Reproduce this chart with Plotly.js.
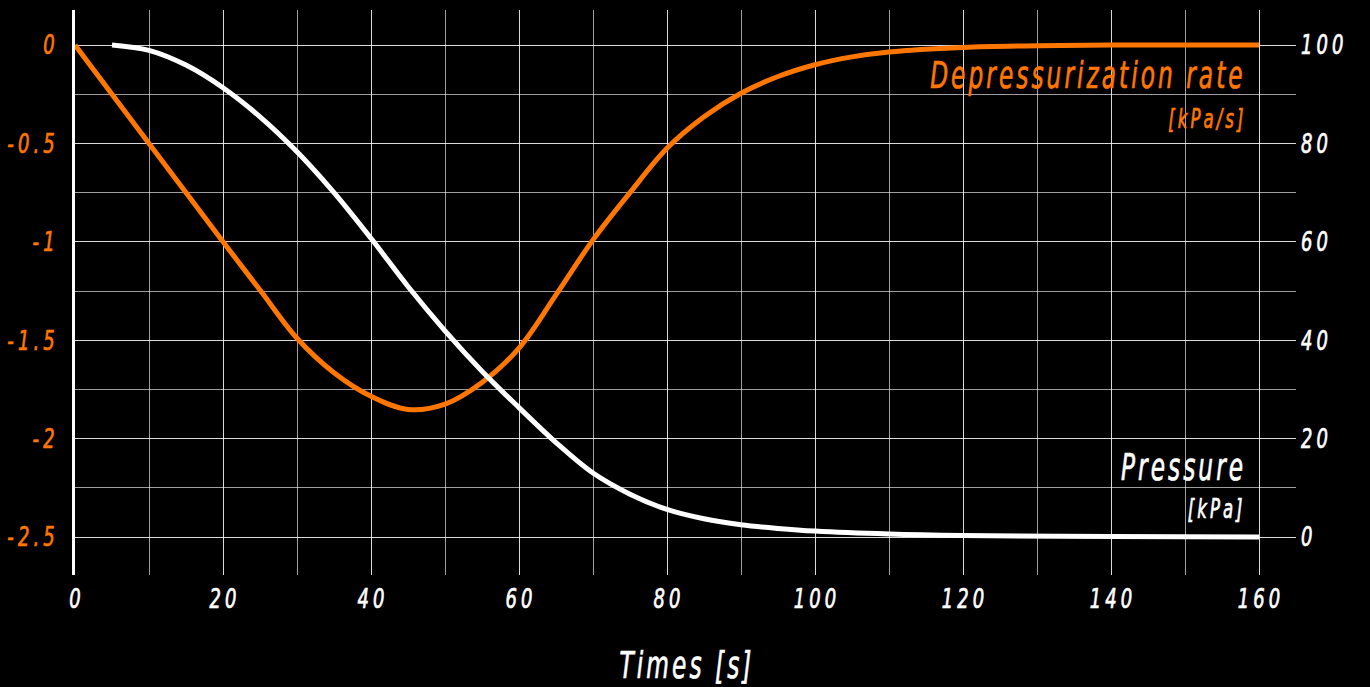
<!DOCTYPE html>
<html>
<head>
<meta charset="utf-8">
<script src="https://cdn.plot.ly/plotly-3.0.1.min.js"></script>
<style>
html, body { margin: 0; padding: 0; background: #000; }
#chart { width: 1370px; height: 687px; }
</style>
</head>
<body>
<div id="chart"></div>
<script>
// Time axis (s)
const rateTime = [0, 10, 20, 25, 30, 35, 40, 45, 50, 55, 60, 65, 70, 75, 80, 85, 90, 95, 100, 105, 110, 120, 130, 140, 160];
// Depressurization rate (kPa/s)
const rateValues = [0, -0.5, -1.0, -1.245, -1.49, -1.665, -1.785, -1.852, -1.825, -1.715, -1.54, -1.27, -0.99, -0.75, -0.525, -0.365, -0.245, -0.16, -0.1, -0.06, -0.035, -0.012, -0.004, 0, 0];

const pressureTime = [5, 10, 15, 20, 25, 30, 35, 40, 45, 50, 55, 60, 65, 70, 75, 80, 85, 90, 95, 100, 110, 120, 140, 160];
// Pressure (kPa)
const pressureValues = [100, 98.9, 95.9, 91.3, 85.4, 78.3, 70.0, 60.7, 50.9, 41.9, 33.7, 26.3, 19.2, 13.0, 8.7, 5.6, 3.7, 2.5, 1.75, 1.2, 0.6, 0.3, 0.08, 0];

const xTickVals = [0, 20, 40, 60, 80, 100, 120, 140, 160];
const xTickText = ['0', '20', '40', '60', '80', '100', '120', '140', '160'];
const leftTickVals = [0, -0.5, -1, -1.5, -2, -2.5];
const leftTickText = ['0', '-0.5', '-1', '-1.5', '-2', '-2.5'];
const rightTickVals = [0, 20, 40, 60, 80, 100];
const rightTickText = ['0', '20', '40', '60', '80', '100'];

const ORANGE = '#ff7600';
const FONT = '"DejaVu Sans Condensed", "DejaVu Sans", sans-serif';
const GRID = 'rgba(255,255,255,0.62)';

const traces = [
  {
    x: rateTime, y: rateValues, type: 'scatter', mode: 'lines', yaxis: 'y',
    line: { color: ORANGE, width: 5, shape: 'spline', smoothing: 1 },
    hoverinfo: 'skip', showlegend: false
  },
  {
    x: pressureTime, y: pressureValues, type: 'scatter', mode: 'lines', yaxis: 'y2',
    line: { color: '#ffffff', width: 5, shape: 'spline', smoothing: 1 },
    hoverinfo: 'skip', showlegend: false
  }
];

const layout = {
  width: 1370, height: 687,
  paper_bgcolor: '#000', plot_bgcolor: '#000',
  margin: { l: 75, r: 74, t: 10, b: 112 },
  showlegend: false,
  font: { family: FONT, color: '#fff', style: 'italic' },
  xaxis: {
    range: [0, 165],
    tickmode: 'array', tickvals: xTickVals, ticktext: xTickText,
    tickfont: { family: FONT, size: 27, color: '#fff', style: 'italic' },
    showgrid: true, gridcolor: GRID, gridwidth: 1,
    minor: { dtick: 10, showgrid: true, gridcolor: GRID, gridwidth: 1 },
    zeroline: false, showline: false, ticks: '',
    ticklabelstandoff: 5,
    title: { text: 'Times [s]', font: { family: FONT, size: 38, color: '#fff', style: 'italic' }, standoff: 38 }
  },
  yaxis: {
    range: [-2.693, 0.178],
    tickmode: 'array', tickvals: leftTickVals, ticktext: leftTickText,
    tickfont: { family: FONT, size: 27, color: ORANGE, style: 'italic' },
    showgrid: true, gridcolor: GRID, gridwidth: 1,
    minor: { dtick: 0.25, showgrid: true, gridcolor: GRID, gridwidth: 1 },
    zeroline: false, showline: true, linecolor: '#fff', linewidth: 3, ticks: '',
    ticklabelstandoff: 12
  },
  yaxis2: {
    range: [-7.72, 107.1],
    overlaying: 'y', side: 'right',
    tickmode: 'array', tickvals: rightTickVals, ticktext: rightTickText,
    tickfont: { family: FONT, size: 27, color: '#fff', style: 'italic' },
    showgrid: false, zeroline: false, showline: false, ticks: '',
    ticklabelstandoff: 4
  },
  annotations: [
    { text: 'Depressurization rate', xref: 'paper', yref: 'paper', x: 0.958, y: 0.885, xanchor: 'right', yanchor: 'middle', showarrow: false,
      font: { family: FONT, size: 38, color: ORANGE, style: 'italic' } },
    { text: '[kPa/s]', xref: 'paper', yref: 'paper', x: 0.958, y: 0.808, xanchor: 'right', yanchor: 'middle', showarrow: false,
      font: { family: FONT, size: 27, color: ORANGE, style: 'italic' } },
    { text: 'Pressure', xref: 'paper', yref: 'paper', x: 0.958, y: 0.192, xanchor: 'right', yanchor: 'middle', showarrow: false,
      font: { family: FONT, size: 38, color: '#fff', style: 'italic' } },
    { text: '[kPa]', xref: 'paper', yref: 'paper', x: 0.958, y: 0.118, xanchor: 'right', yanchor: 'middle', showarrow: false,
      font: { family: FONT, size: 27, color: '#fff', style: 'italic' } }
  ]
};

// Give the lettering the spaced, condensed look of the reference face.
// The anchor point Plotly chose (measured without spacing) is kept fixed.
function condenseText(gd) {
  gd.querySelectorAll('svg text').forEach(function (t) {
    if (!t.textContent) return;
    const isTick = !!t.closest('.xtick, .ytick, .y2tick');
    const s = isTick ? 0.74 : 0.68;
    const ls = isTick ? 5.5 : 4.5;
    let anchor = t.getAttribute('text-anchor') || 'start';
    if (t.classList.contains('annotation-text')) anchor = 'end';
    const b0 = t.getBBox();
    const ax0 = anchor === 'end' ? b0.x + b0.width : (anchor === 'middle' ? b0.x + b0.width / 2 : b0.x);
    t.style.letterSpacing = ls + 'px';
    const b1 = t.getBBox();
    const w1 = b1.width - ls; // drop trailing spacing
    const ax1 = anchor === 'end' ? b1.x + w1 : (anchor === 'middle' ? b1.x + w1 / 2 : b1.x);
    const T = t.getAttribute('transform') || '';
    t.setAttribute('transform', T + ' translate(' + ax0 + ',0) scale(' + s + ',1) translate(' + (-ax1) + ',0)');
    // slightly heavier strokes, like the reference face
    const fill = t.style.fill || window.getComputedStyle(t).fill;
    t.style.stroke = fill;
    t.style.strokeWidth = '0.7px';
  });
}

Plotly.newPlot('chart', traces, layout, { displayModeBar: false, staticPlot: true })
  .then(function (gd) { condenseText(gd); });
</script>
</body>
</html>
